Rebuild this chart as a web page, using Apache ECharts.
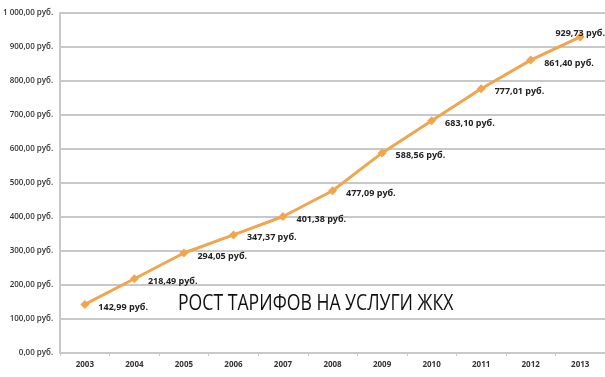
<!DOCTYPE html>
<html><head><meta charset="utf-8">
<script src="https://cdn.jsdelivr.net/npm/echarts@6/dist/echarts.min.js"></script>
<style>html,body{margin:0;padding:0;background:#fff}#c{width:605px;height:377px}</style>
</head><body><div id="c"></div>
<script>
const years = ['2003','2004','2005','2006','2007','2008','2009','2010','2011','2012','2013'];
const tariffs = [142.99, 218.49, 294.05, 347.37, 401.38, 477.09, 588.56, 683.10, 777.01, 861.40, 929.73];
const titleText = 'РОСТ ТАРИФОВ НА УСЛУГИ ЖКХ';

function rub(v){
  const s = v.toFixed(2).replace('.', ',');
  const [i, d] = s.split(',');
  const ii = i.replace(/\B(?=(\d{3})+(?!\d))/g, ' ');
  return ii + ',' + d + ' руб.';
}
const chart = echarts.init(document.getElementById('c'));
chart.setOption({
  animation: false,
  graphic: [{
    type: 'text', x: 178, y: 294, scaleX: 0.84, z: 10,
    style: {text: titleText, x: 0, y: 0, verticalAlign: 'top',
      font: 'normal 21px "Open Sans"', fill: '#111'}
  }],
  grid: {left: 57, right: -3, top: 13, bottom: 24},
  xAxis: {
    type: 'category', data: years, boundaryGap: true,
    axisLine: {lineStyle: {color: '#c8c8c8', width: 2}},
    axisTick: {show: true, length: 3, lineStyle: {color: '#c8c8c8'}},
    axisLabel: {fontFamily: 'Open Sans', fontSize: 8, fontWeight: 'bold', color: '#333', margin: 8}
  },
  yAxis: {
    type: 'value', min: 0, max: 1000, interval: 100,
    axisLine: {show: true, lineStyle: {color: '#c8c8c8', width: 2}},
    axisTick: {show: false},
    splitLine: {lineStyle: {color: '#c8c8c8', width: 2}},
    axisLabel: {fontFamily: 'Open Sans', fontSize: 8, fontWeight: 600, color: '#333', margin: 7, formatter: rub}
  },
  series: [{
    type: 'line', data: tariffs.map((v, i) => i === tariffs.length - 1 ?
      {value: v, label: {position: 'top', offset: [0, 11]}} : v),
    symbol: 'diamond', symbolSize: 9,
    lineStyle: {color: '#f0a54f', width: 3},
    itemStyle: {color: '#f0a54f'},
    label: {
      show: true, position: 'right', offset: [4, 3], formatter: p => rub(p.value),
      fontFamily: 'Open Sans', fontSize: 9, fontWeight: 'bold', color: '#222'
    }
  }]
});
</script></body></html>
